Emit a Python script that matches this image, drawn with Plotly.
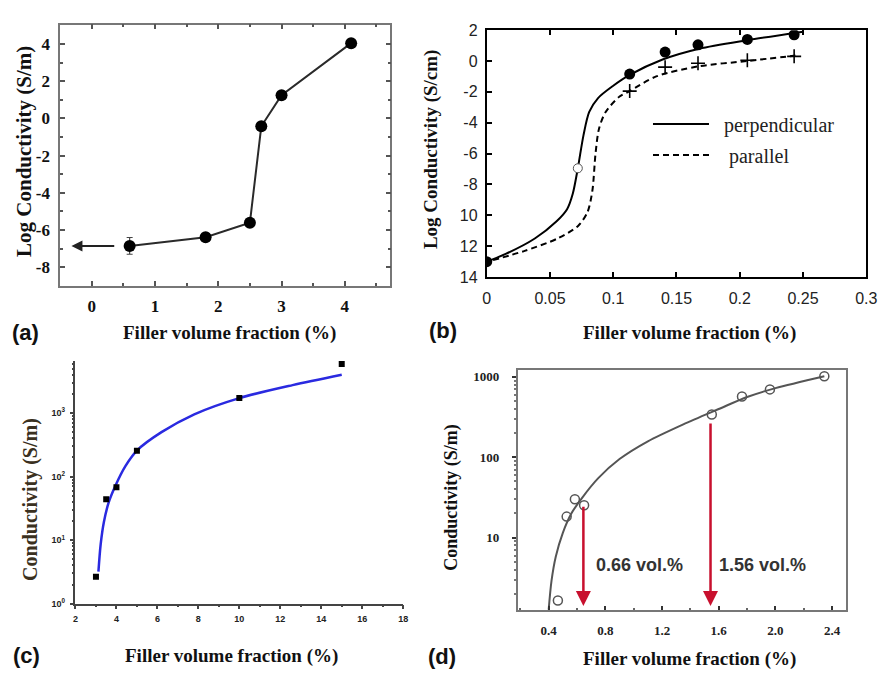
import math
import plotly.graph_objects as go

W, H = 892, 679

# ---------------- data ----------------
# (a)
a_x = [0.6, 1.8, 2.5, 2.68, 3.0, 4.1]
a_y = [-6.85, -6.38, -5.6, -0.42, 1.25, 4.05]
a_err = [0.45, 0, 0, 0, 0, 0]
a_arrow_x = [0.38, -0.32]   # arrow start / tip (x), at the first point's level

# (b)
b_perp_x = [0.0, 0.015, 0.038, 0.055, 0.0635, 0.068, 0.072, 0.0765, 0.081, 0.088, 0.1, 0.113, 0.139, 0.168, 0.206, 0.25]
b_perp_y = [-13.0, -12.5, -11.5, -10.4, -9.6, -8.6, -6.95, -4.8, -3.3, -2.4, -1.6, -0.9, 0.1, 0.8, 1.35, 1.9]
b_par_x = [0.005, 0.03, 0.056, 0.072, 0.0796, 0.0835, 0.086, 0.0887, 0.094, 0.105, 0.113, 0.134, 0.167, 0.206, 0.244]
b_par_y = [-12.9, -12.3, -11.5, -10.7, -9.8, -8.4, -6.0, -4.4, -3.3, -2.3, -1.95, -1.0, -0.35, 0.0, 0.35]
b_dot_x = [0.0, 0.113, 0.141, 0.167, 0.206, 0.243]
b_dot_y = [-13.0, -0.85, 0.58, 1.05, 1.4, 1.7]
b_open_x = [0.072]
b_open_y = [-6.95]
b_cross_x = [0.113, 0.141, 0.167, 0.206, 0.243]
b_cross_y = [-1.95, -0.4, -0.15, 0.05, 0.3]
b_yticks = [2, 0, -2, -4, -6, -8, -10, -12, -14]
b_yticktext = ["2", "0", "-2", "-4", "-6", "-8", "10", "12", "14"]

# (c)
c_x = [3.0, 3.5, 4.0, 5.0, 10.0, 15.0]
c_y = [2.65, 44, 68, 255, 1720, 5900]
c_fit_x = [3.12, 3.23, 3.39, 3.63, 3.95, 4.43, 5.0, 6.2, 7.8, 10.0, 12.6, 15.0]
c_fit_y = [3.2, 8.6, 19.5, 40, 72, 145, 257, 500, 955, 1720, 2750, 4000]
c_yticks = [1, 10, 100, 1000]
c_yticktext = ["10<sup>0</sup>", "10<sup>1</sup>", "10<sup>2</sup>", "10<sup>3</sup>"]

# (d)
d_x = [0.465, 0.527, 0.585, 0.65, 1.551, 1.764, 1.961, 2.345]
d_y = [1.66, 18.3, 30, 25.3, 341, 570, 698, 1019]
d_fit_x = [0.4, 0.42, 0.45, 0.5, 0.56, 0.64, 0.75, 0.9, 1.1, 1.35, 1.6, 1.8, 2.0, 2.345]
d_fit_y = [1.27, 2.9, 5.8, 11.5, 20, 32, 55, 95, 158, 257, 398, 562, 724, 1019]
d_arrow_x = [0.645, 1.542]
d_arrow_top = [25.3, 275]
d_arrow_tip = 1.42
d_labels = ["0.66 vol.%", "1.56 vol.%"]
d_label_x = [0.719, 1.586]
d_label_y = 4.6

SERIF = "Liberation Serif, Times New Roman, serif"
SANS = "Liberation Sans, Arial, sans-serif"
NARROW = "Liberation Sans Narrow, Arial Narrow, Liberation Sans, Arial, sans-serif"
NBSP = "\u00a0"


def px(x):
    return x / W


def py(y):
    return 1 - y / H


def bold(lst):
    return ["<b>" + str(t) + "</b>" for t in lst]


fig = go.Figure()

# ---- (a)
fig.add_trace(go.Scatter(
    x=a_x, y=a_y, xaxis="x", yaxis="y", mode="lines+markers",
    line=dict(color="#2a2a2a", width=2),
    marker=dict(color="black", size=12),
    error_y=dict(type="data", array=a_err, color="#444", thickness=1.2, width=3),
    showlegend=False))

# ---- (b)
fig.add_trace(go.Scatter(
    x=b_perp_x, y=b_perp_y, xaxis="x2", yaxis="y2", mode="lines",
    line=dict(color="black", width=2, shape="spline", smoothing=0.8),
    name=NBSP * 2 + "perpendicular", legendgroup="g1"))
fig.add_trace(go.Scatter(
    x=b_par_x, y=b_par_y, xaxis="x2", yaxis="y2", mode="lines",
    line=dict(color="black", width=2, dash="6px,4px", shape="spline", smoothing=0.8),
    name=NBSP * 3 + "parallel", legendgroup="g2"))
fig.add_trace(go.Scatter(
    x=b_dot_x, y=b_dot_y, xaxis="x2", yaxis="y2", mode="markers",
    marker=dict(color="black", size=11), showlegend=False))
fig.add_trace(go.Scatter(
    x=b_open_x, y=b_open_y, xaxis="x2", yaxis="y2", mode="markers",
    marker=dict(color="white", size=9, line=dict(color="#555", width=1)), showlegend=False))
fig.add_trace(go.Scatter(
    x=b_cross_x, y=b_cross_y, xaxis="x2", yaxis="y2", mode="markers",
    marker=dict(symbol="cross-thin", size=10, line=dict(color="black", width=1.6)), showlegend=False))

# ---- (c)
fig.add_trace(go.Scatter(
    x=c_fit_x, y=c_fit_y, xaxis="x3", yaxis="y3", mode="lines",
    line=dict(color="#2a2ae0", width=2.5, shape="spline", smoothing=0.8), showlegend=False))
fig.add_trace(go.Scatter(
    x=c_x, y=c_y, xaxis="x3", yaxis="y3", mode="markers",
    marker=dict(symbol="square", color="black", size=6), showlegend=False))

# ---- (d)
fig.add_trace(go.Scatter(
    x=d_fit_x, y=d_fit_y, xaxis="x4", yaxis="y4", mode="lines",
    line=dict(color="#555", width=2, shape="spline", smoothing=0.8), showlegend=False))
fig.add_trace(go.Scatter(
    x=d_x, y=d_y, xaxis="x4", yaxis="y4", mode="markers",
    marker=dict(symbol="circle-open", color="#555", size=9, line=dict(width=1.5)), showlegend=False))

annotations = []

# arrow in (a)
annotations.append(dict(
    x=a_arrow_x[1], y=a_y[0], ax=a_arrow_x[0], ay=a_y[0], xref="x", yref="y",
    axref="x", ayref="y", showarrow=True, arrowhead=2, arrowsize=1.1,
    arrowwidth=2, arrowcolor="#222", text=""))

# red arrows in (d)
for ax_, top in zip(d_arrow_x, d_arrow_top):
    annotations.append(dict(
        x=ax_, y=math.log10(d_arrow_tip), ax=ax_, ay=math.log10(top),
        xref="x4", yref="y4", axref="x4", ayref="y4", showarrow=True,
        arrowhead=2, arrowsize=1.2, arrowwidth=2.5, arrowcolor="#c8102e", text=""))
for lab, lx in zip(d_labels, d_label_x):
    annotations.append(dict(
        x=lx, y=math.log10(d_label_y), xref="x4", yref="y4", text="<b>" + lab + "</b>",
        showarrow=False, xanchor="left", yanchor="middle",
        font=dict(family=SANS, size=18, color="#333")))

# axis titles
xt = "<b>Filler volume fraction (%)</b>"
for (cx, cy) in [(229, 333), (697, 333), (231, 665), (697, 668)]:
    annotations.append(dict(x=px(cx), y=py(cy), xref="paper", yref="paper", text=xt,
                            showarrow=False, xanchor="center", yanchor="middle",
                            font=dict(family=SERIF, size=19, color="#111")))
ytitles = [
    ("<b>Log Conductivity (S/m)</b>", 21, 147, 21, "#111"),
    ("<b>Log Conductivity (S/cm)</b>", 435, 145, 19, "#111"),
    ("<b>Conductivity (S/m)</b>", 27, 504, 20, "#3a3020"),
    ("<b>Conductivity (S/m)</b>", 455, 502, 18, "#111"),
]
for t, cx, cy, fs, col in ytitles:
    annotations.append(dict(x=px(cx), y=py(cy), xref="paper", yref="paper", text=t,
                            showarrow=False, textangle=-90, xanchor="center", yanchor="middle",
                            font=dict(family=SERIF, size=fs, color=col)))

# panel labels
for t, cx, cy in [("(a)", 22, 333), ("(b)", 447, 331), ("(c)", 23, 664), ("(d)", 445, 665)]:
    annotations.append(dict(x=px(cx), y=py(cy), xref="paper", yref="paper", text="<b>" + t + "</b>",
                            showarrow=False, xanchor="center", yanchor="middle",
                            font=dict(family=NARROW, size=22, color="#111")))

tick_serif = dict(family=SERIF, size=17, color="#111")

fig.update_layout(
    width=W, height=H, margin=dict(l=0, r=0, t=0, b=0),
    paper_bgcolor="white", plot_bgcolor="white",
    annotations=annotations,
    showlegend=True,
    legend=dict(x=px(655), y=py(99), xanchor="left", yanchor="top",
                font=dict(family=SERIF, size=20, color="#222"),
                itemwidth=56, tracegroupgap=2, bgcolor="rgba(0,0,0,0)",
                traceorder="grouped"),
    # (a)
    xaxis=dict(domain=[px(57), px(393)], anchor="y", range=[-0.5, 4.72],
               tickvals=[0, 1, 2, 3, 4], ticktext=bold([0, 1, 2, 3, 4]),
               ticks="inside", ticklen=5, tickwidth=1.5,
               tickcolor="#555", showline=True, linecolor="#777", linewidth=1.5,
               mirror="allticks", showgrid=False, zeroline=False,
               minor=dict(dtick=0.5, ticks="inside", ticklen=3, tickcolor="#555"),
               tickfont=tick_serif, ticklabelstandoff=4),
    yaxis=dict(domain=[py(285), py(17)], anchor="x", range=[-9, 5.05],
               tickvals=[4, 2, 0, -2, -4, -6, -8], ticktext=bold(["4", "2", "0", "-2", "-4", "-6", "-8"]),
               ticks="inside", ticklen=5, tickwidth=1.5, tickcolor="#555",
               showline=True, linecolor="#777", linewidth=1.5, mirror="allticks",
               showgrid=False, zeroline=False,
               minor=dict(dtick=1, ticks="inside", ticklen=3, tickcolor="#555"),
               tickfont=tick_serif, ticklabelstandoff=5),
    # (b)
    xaxis2=dict(domain=[px(491), px(877)], anchor="y2", range=[0, 0.3],
                tickvals=[0, 0.05, 0.1, 0.15, 0.2, 0.25, 0.3],
                ticktext=["0", "0.05", "0.1", "0.15", "0.2", "0.25", "0.3"],
                ticks="inside", ticklen=5, tickwidth=2, tickcolor="black",
                showline=True, linecolor="black", linewidth=2, mirror="allticks",
                showgrid=False, zeroline=False,
                tickfont=dict(family=SANS, size=16, color="#222"), ticklabelstandoff=6),
    yaxis2=dict(domain=[py(276), py(22.7)], anchor="x2", range=[-14, 2],
                tickvals=b_yticks, ticktext=b_yticktext,
                ticks="inside", ticklen=5, tickwidth=2, tickcolor="black",
                showline=True, linecolor="black", linewidth=2, mirror=True,
                showgrid=False, zeroline=False,
                tickfont=dict(family=SANS, size=16, color="#222"), ticklabelstandoff=4),
    # (c)
    xaxis3=dict(domain=[px(72.7), px(406)], anchor="y3", range=[2, 18],
                tickvals=[2, 4, 6, 8, 10, 12, 14, 16, 18], ticktext=bold([2, 4, 6, 8, 10, 12, 14, 16, 18]),
                ticks="outside", ticklen=4, tickwidth=1.5, tickcolor="#444",
                showline=True, linecolor="#444", linewidth=1.5, mirror=False,
                showgrid=False, zeroline=False,
                minor=dict(dtick=1, ticks="outside", ticklen=2, tickcolor="#444"),
                tickfont=dict(family=SANS, size=9, color="#222"), ticklabelstandoff=2),
    yaxis3=dict(domain=[py(611), py(362)], anchor="x3", type="log", range=[0, 3.82],
                tickvals=c_yticks, ticktext=bold(c_yticktext),
                ticks="outside", ticklen=4, tickwidth=1.5, tickcolor="#444",
                showline=True, linecolor="#444", linewidth=1.5, mirror=False,
                showgrid=False, zeroline=False,
                minor=dict(dtick="D1", ticks="outside", ticklen=2, tickcolor="#444"),
                tickfont=dict(family=SANS, size=9, color="#222"), ticklabelstandoff=3),
    # (d)
    xaxis4=dict(domain=[px(522.7), px(856.7)], anchor="y4", range=[0.183, 2.5],
                tickvals=[0.4, 0.8, 1.2, 1.6, 2.0, 2.4],
                ticktext=bold(["0.4", "0.8", "1.2", "1.6", "2.0", "2.4"]),
                ticks="inside", ticklen=4, tickwidth=2, tickcolor="#333",
                showline=True, linecolor="#777", linewidth=2, mirror=True,
                showgrid=False, zeroline=False,
                minor=dict(dtick=0.2, ticks="inside", ticklen=2, tickcolor="#666"),
                tickfont=dict(family=SERIF, size=13, color="#222"), ticklabelstandoff=8),
    yaxis4=dict(domain=[py(617.3), py(371.3)], anchor="x4", type="log", range=[0.103, 3.085],
                tickvals=[10, 100, 1000], ticktext=bold(["10", "100", "1000"]),
                ticks="outside", ticklen=4, tickwidth=2, tickcolor="#333",
                showline=True, linecolor="#777", linewidth=2, mirror=True,
                showgrid=False, zeroline=False,
                minor=dict(dtick="D1", ticks="outside", ticklen=2, tickcolor="#777"),
                tickfont=dict(family=SERIF, size=13, color="#222"), ticklabelstandoff=10),
)

fig.write_html("out.html")
